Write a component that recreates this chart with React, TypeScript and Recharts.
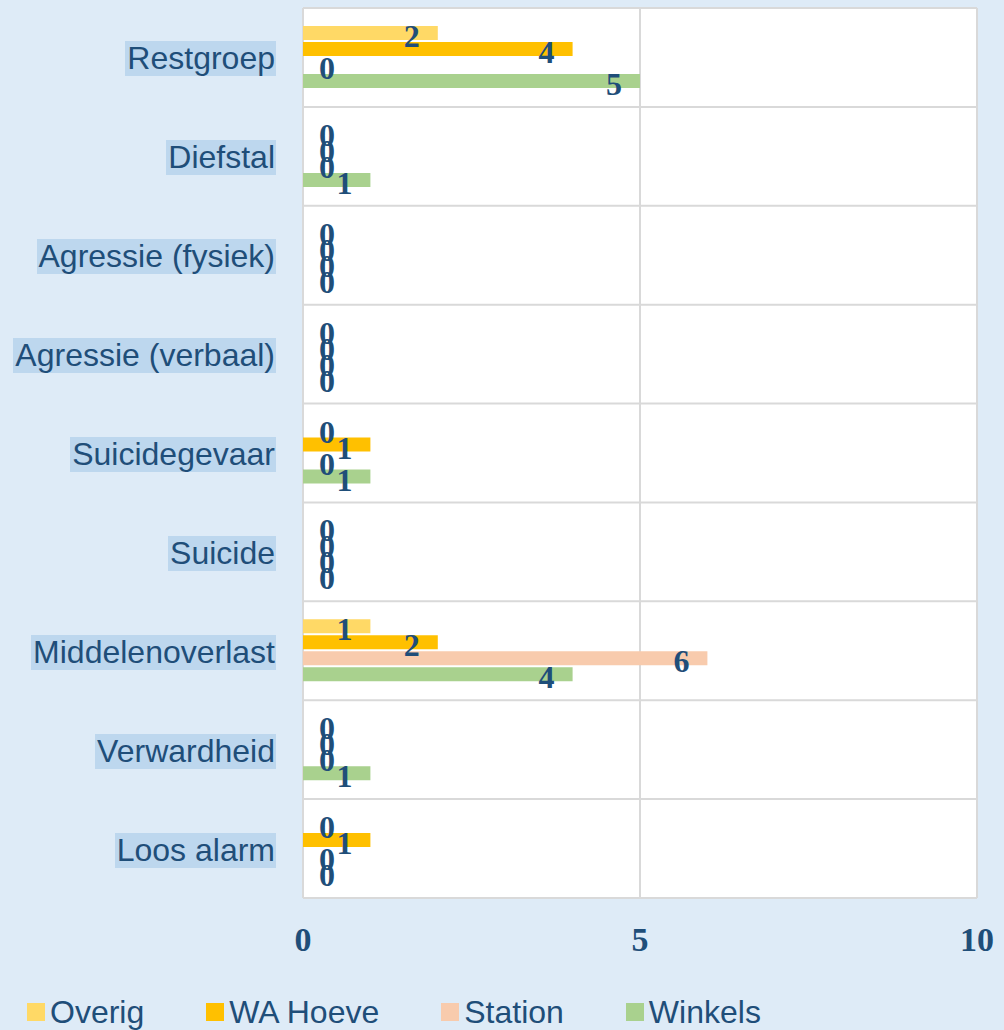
import React from 'react';
import { BarChart, Bar, XAxis, YAxis, CartesianGrid, LabelList } from 'recharts';

const categories = [
  'Restgroep',
  'Diefstal',
  'Agressie (fysiek)',
  'Agressie (verbaal)',
  'Suicidegevaar',
  'Suicide',
  'Middelenoverlast',
  'Verwardheid',
  'Loos alarm',
];
const overig = [2, 0, 0, 0, 0, 0, 1, 0, 0];
const waHoeve = [4, 0, 0, 0, 1, 0, 2, 0, 1];
const station = [0, 0, 0, 0, 0, 0, 6, 0, 0];
const winkels = [5, 1, 0, 0, 1, 0, 4, 1, 0];
const xTicks = [0, 5, 10];

const series = [
  { key: 'overig', name: 'Overig', color: '#FFD966' },
  { key: 'waHoeve', name: 'WA Hoeve', color: '#FFC000' },
  { key: 'station', name: 'Station', color: '#F8CBAD' },
  { key: 'winkels', name: 'Winkels', color: '#A9D18E' },
];

const data = categories.map((name, i) => ({
  name,
  overig: overig[i],
  waHoeve: waHoeve[i],
  station: station[i],
  winkels: winkels[i],
}));

const TEXT = '#1F4E79';

const BarLabel = (props: any) => {
  const { x, y, width, height, value } = props;
  const cx = value === 0 ? x + 24 : x + width - 26;
  return (
    <text
      x={cx}
      y={y + height / 2 + 3}
      textAnchor="middle"
      dominantBaseline="central"
      fontFamily="'Liberation Serif', serif"
      fontWeight="bold"
      fontSize={32}
      fill={TEXT}
    >
      {value}
    </text>
  );
};

const CategoryTick = (props: any) => {
  const { y, payload } = props;
  return (
    <foreignObject x={0} y={y - 16} width={276} height={38}>
      <div style={{ textAlign: 'right', lineHeight: '34px' }}>
        <span
          style={{
            background: '#BDD7EE',
            color: TEXT,
            fontFamily: "'Liberation Sans', Arial, sans-serif",
            fontSize: 32,
            padding: '0 1px 0 2px',
          }}
        >
          {payload.value}
        </span>
      </div>
    </foreignObject>
  );
};

const ValueTick = (props: any) => {
  const { x, y, payload } = props;
  return (
    <text
      x={x}
      y={y + 39}
      textAnchor="middle"
      dominantBaseline="central"
      fontFamily="'Liberation Serif', serif"
      fontWeight="bold"
      fontSize={34}
      fill={TEXT}
    >
      {payload.value}
    </text>
  );
};

const App: React.FC = () => {
  return (
    <div style={{ position: 'relative', width: 1004, height: 1030, background: '#DEEBF7', overflow: 'hidden' }}>
      <style>{`body{margin:0;background:#DEEBF7}`}</style>
      <BarChart
        width={1004}
        height={1030}
        data={data}
        layout="vertical"
        margin={{ top: 8, right: 27, left: 0, bottom: 0 }}
        barCategoryGap={18}
        barGap={2}
      >
        <CartesianGrid
          stroke="#D9D9D9"
          strokeWidth={2}
          fill="#FFFFFF"
          fillOpacity={1}
          horizontalCoordinatesGenerator={({ offset }: any) =>
            Array.from({ length: categories.length + 1 }, (_, i) => offset.top + (i * offset.height) / categories.length)
          }
        />
        <XAxis
          type="number"
          domain={[0, 10]}
          ticks={xTicks}
          axisLine={false}
          tickLine={false}
          tickSize={0}
          height={132}
          tick={<ValueTick />}
        />
        <YAxis
          type="category"
          dataKey="name"
          width={303}
          axisLine={false}
          tickLine={false}
          tick={<CategoryTick />}
        />
        {series.map((s) => (
          <Bar
            key={s.key}
            dataKey={s.key}
            name={s.name}
            fill={s.color}
            minPointSize={0.001}
            isAnimationActive={false}
          >
            <LabelList dataKey={s.key} content={<BarLabel />} />
          </Bar>
        ))}
      </BarChart>
      <div
        style={{
          position: 'absolute',
          left: 27,
          top: 995,
          display: 'flex',
          alignItems: 'center',
          gap: 62,
          fontFamily: "'Liberation Sans', Arial, sans-serif",
          fontSize: 32,
          lineHeight: '34px',
          color: TEXT,
        }}
      >
        {series.map((s) => (
          <div key={s.key} style={{ display: 'flex', alignItems: 'center' }}>
            <span style={{ width: 18, height: 18, background: s.color, marginRight: 5, display: 'inline-block' }} />
            <span>{s.name}</span>
          </div>
        ))}
      </div>
    </div>
  );
};

export default App;
